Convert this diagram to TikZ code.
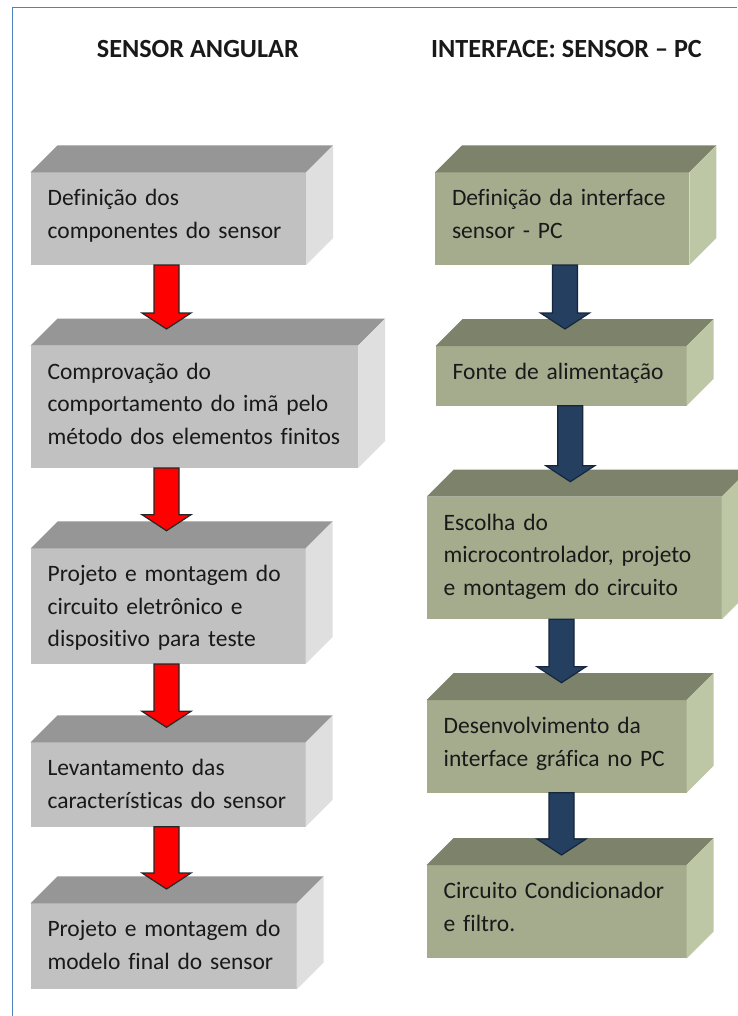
\documentclass[tikz,border=0pt]{standalone}
\usepackage{fontspec}
\setmainfont{Carlito}[Ligatures=NoCommon]
\usetikzlibrary{calc}
\definecolor{grayF}{RGB}{193,193,193}
\definecolor{grayT}{RGB}{150,150,150}
\definecolor{grayS}{RGB}{223,223,223}
\definecolor{greenF}{RGB}{165,172,141}
\definecolor{greenT}{RGB}{124,131,106}
\definecolor{greenS}{RGB}{190,199,165}
\definecolor{frameblue}{RGB}{79,129,189}
\definecolor{navy}{RGB}{36,63,96}
\definecolor{navyline}{RGB}{22,38,60}
\tikzset{
  grayfront/.style={fill=grayF, draw=none, inner sep=0pt, outer sep=0pt},
  graytop/.style={fill=grayT},
  grayside/.style={fill=grayS},
  greenfront/.style={fill=greenF, draw=none, inner sep=0pt, outer sep=0pt},
  greentop/.style={fill=greenT},
  greenside/.style={fill=greenS},
  txt/.style={anchor=base west, inner sep=0pt, outer sep=0pt, text width=330pt, align=left,
    font=\fontsize{23.5}{32.5}\selectfont, text=black!90},
  title/.style={anchor=base west, inner sep=0pt, font=\fontsize{26.2}{30}\selectfont\bfseries, text=black!90},
  redarrow/.style={fill=red, draw=black!85, line width=1.2pt, line join=miter},
  bluearrow/.style={fill=navy, draw=navyline, line width=1.2pt, line join=miter},
  frame/.style={draw=frameblue, line width=1.5pt}
}
% #1 name, #2 kind, #3 x1, #4 y1, #5 x2, #6 y2, #7 text
\newcommand\cuboid[7]{%
  \node[#2front, anchor=north west, minimum width=#5-#3, minimum height=#6-#4] (#1) at (#3,#4) {};
  \fill[#2top] (#1.north west) -- ++(27,-27) -- ($(#1.north east)+(27,-27)$) -- (#1.north east) -- cycle;
  \fill[#2side] (#1.north east) -- ++(27,-27) -- ($(#1.south east)+(27,-27)$) -- (#1.south east) -- cycle;
  \node[txt] (#1t) at ($(#1.north west)+(17,33.5)$) {#7};
}
% #1 style, #2 from, #3 to, #4 x, #5 tip offset above front top
\newcommand\fatarrow[5]{%
  \draw[#1] let \p1=(#2.south), \p2=($(#3.north)+(0,-#5)$) in
    (#4pt-12.5pt,\y1) -- (#4pt-12.5pt,\y2+16pt) -- (#4pt-24.5pt,\y2+16pt) -- (#4pt,\y2)
    -- (#4pt+24.5pt,\y2+16pt) -- (#4pt+12.5pt,\y2+16pt) -- (#4pt+12.5pt,\y1) -- cycle;
}
\begin{document}
\begin{tikzpicture}[x=1pt,y=-1pt]
\useasboundingbox (0,0) rectangle (737,1016);
\fill[white] (0,0) rectangle (737,1016);
\draw[frame] (12.7,1016) -- (12.7,7.3) -- (737,7.3);

\node[title] (t1) at (96.7,57.3) {SENSOR ANGULAR};
\node[title] (t2) at (431,57.3) {INTERFACE: SENSOR – PC};

\cuboid{L1}{gray}{30.7}{172.3}{306}{265}{Definição dos\\componentes do sensor}
\cuboid{L2}{gray}{30.5}{345.7}{358}{468}{Comprovação do\\comportamento do imã pelo\\método dos elementos finitos}
\cuboid{L3}{gray}{30.7}{548.3}{305.7}{664}{Projeto e montagem do\\circuito eletrônico e\\dispositivo para teste}
\cuboid{L4}{gray}{30.5}{742.3}{305.7}{826.7}{Levantamento das\\características do sensor}
\cuboid{L5}{gray}{30.5}{903.3}{296.7}{989.3}{Projeto e montagem do\\modelo final do sensor}

\cuboid{R1}{green}{435}{172.3}{689.3}{265}{Definição da interface\\sensor - PC}
\cuboid{R2}{green}{435.7}{346}{686.7}{405.7}{Fonte de alimentação}
\cuboid{R3}{green}{426.7}{496.7}{721.7}{619.3}{Escolha do\\microcontrolador, projeto\\e montagem do circuito}
\cuboid{R4}{green}{426.7}{700}{686.7}{792.7}{Desenvolvimento da\\interface gráfica no PC}
\cuboid{R5}{green}{426.7}{865}{686.7}{958.3}{Circuito Condicionador\\e filtro.}

\fatarrow{redarrow}{L1}{L2}{166.5}{16.7}
\fatarrow{redarrow}{L2}{L3}{166.5}{17.6}
\fatarrow{redarrow}{L3}{L4}{166.5}{15}
\fatarrow{redarrow}{L4}{L5}{166.5}{14.3}

\fatarrow{bluearrow}{R1}{R2}{565}{17}
\fatarrow{bluearrow}{R2}{R3}{570.3}{15}
\fatarrow{bluearrow}{R3}{R4}{561.5}{17.3}
\fatarrow{bluearrow}{R4}{R5}{561.5}{10}
\end{tikzpicture}
\end{document}
